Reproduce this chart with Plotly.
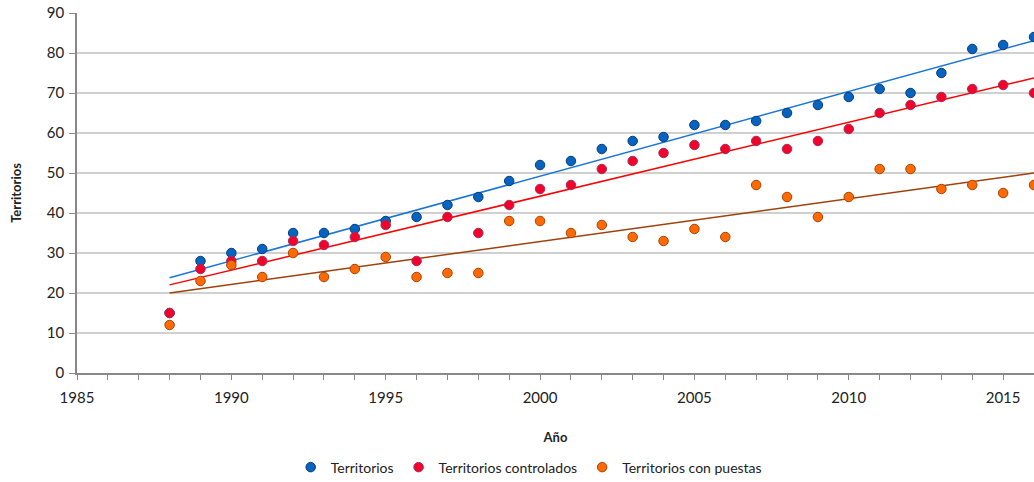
import numpy as np
import plotly.graph_objects as go

years = list(range(1988, 2017))
territorios = [15, 28, 30, 31, 35, 35, 36, 38, 39, 42, 44, 48, 52, 53, 56, 58, 59, 62, 62, 63, 65, 67, 69, 71, 70, 75, 81, 82, 84]
controlados = [15, 26, 28, 28, 33, 32, 34, 37, 28, 39, 35, 42, 46, 47, 51, 53, 55, 57, 56, 58, 56, 58, 61, 65, 67, 69, 71, 72, 70]
con_puestas = [12, 23, 27, 24, 30, 24, 26, 29, 24, 25, 25, 38, 38, 35, 37, 34, 33, 36, 34, 47, 44, 39, 44, 51, 51, 46, 47, 45, 47]

series = [
    ("Territorios", territorios, "#0563C1", "#0A3D78", "#1A75D8"),
    ("Territorios controlados", controlados, "#F5002A", "#A03060", "#FF0000"),
    ("Territorios con puestas", con_puestas, "#FF6A00", "#A8420A", "#A0400A"),
]

fig = go.Figure()
x = np.array(years, dtype=float)
for name, vals, fill, edge, tcol in series:
    m, b = np.polyfit(x, np.array(vals, dtype=float), 1)
    xs = [x[0], x[-1]]
    fig.add_trace(go.Scatter(x=xs, y=[m * v + b for v in xs], mode="lines",
                             line=dict(color=tcol, width=1.5), showlegend=False,
                             hoverinfo="skip"))
for name, vals, fill, edge, tcol in series:
    fig.add_trace(go.Scatter(x=years, y=vals, mode="markers", name=name,
                             marker=dict(color=fill, size=9.5,
                                         line=dict(color=edge, width=1))))

fig.update_layout(
    width=1034, height=482,
    margin=dict(l=77, r=0, t=13, b=109),
    paper_bgcolor="white", plot_bgcolor="white",
    font=dict(family="Lato, 'Open Sans', sans-serif", color="#222222"),
    showlegend=True,
    legend=dict(orientation="h", x=0.472, xanchor="center",
                yref="container", y=0.03, yanchor="middle",
                font=dict(size=14), itemwidth=30, tracegroupgap=0),
    xaxis=dict(range=[1985, 2016], dtick=5, tick0=1985, automargin=False,
               showgrid=False, zeroline=False,
               showline=True, linecolor="#888888", linewidth=1.5,
               ticks="outside", ticklen=5, tickcolor="#888888",
               minor=dict(dtick=1, ticks="outside", ticklen=5, tickcolor="#888888"),
               tickfont=dict(size=15), ticklabelstandoff=5,
               title=dict(text="<b>Año</b>", font=dict(size=13), standoff=28)),
    yaxis=dict(range=[0, 90], dtick=10, automargin=False,
               showgrid=True, gridcolor="#D0D0D0", gridwidth=1.5, zeroline=False,
               showline=True, linecolor="#888888", linewidth=1.5,
               ticks="outside", ticklen=6, tickcolor="#888888",
               tickfont=dict(size=15), ticklabelstandoff=2,
               title=dict(text="<b>Territorios</b>", font=dict(size=13), standoff=22)),
)

fig.write_html("out.html", config={"displayModeBar": False},
               post_script="document.body.style.margin='0';")
